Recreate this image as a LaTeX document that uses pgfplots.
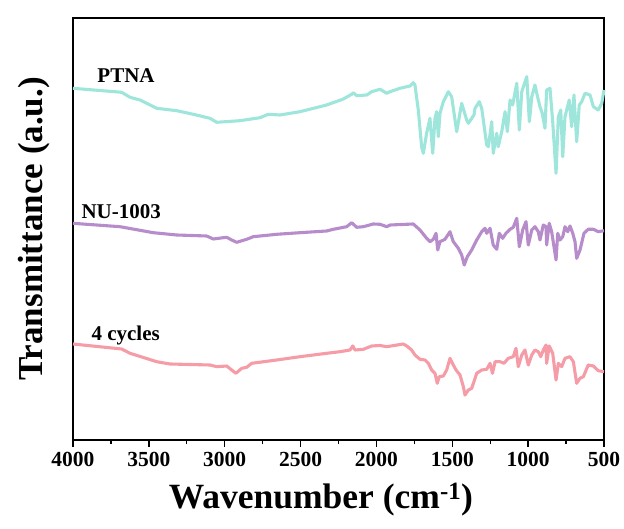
\documentclass[border=0pt]{standalone}
\usepackage{fontspec}
\setmainfont{Liberation Serif}
\usepackage{pgfplots}
\pgfplotsset{compat=1.18}
\definecolor{cPT}{RGB}{158,230,219}
\definecolor{cNU}{RGB}{182,140,202}
\definecolor{cFC}{RGB}{245,156,166}
\begin{document}
\begin{tikzpicture}
\begin{axis}[
  scale only axis, width=531pt, height=422pt,
  xmin=500, xmax=4000, ymin=-440, ymax=-18,
  x dir=reverse,
  xtick={500,1000,...,4000},
  minor x tick num=1,
  ytick=\empty,
  tick align=outside, xtick pos=bottom,
  major tick length=7pt, minor tick length=4pt,
  every tick/.style={black, line width=1.4pt},
  axis line style={line width=1.8pt},
  /pgf/number format/assume math mode=true,
  /pgf/number format/1000 sep={},
  ticklabel style={font=\fontsize{21.5}{21.5}\selectfont\bfseries},
  xticklabel style={yshift=-2pt},
  xlabel={Wavenumber (cm\textsuperscript{-1})},
  ylabel={Transmittance (a.u.)},
  xlabel style={font=\fontsize{35.5}{35.5}\selectfont\bfseries, at={(axis description cs:0.467,0)}, anchor=base, yshift=-69pt},
  ylabel style={font=\fontsize{35}{35}\selectfont\bfseries, at={(axis description cs:-0.0734,0.5)}, anchor=center},
  clip=false,
  every axis plot/.append style={line width=3.1pt, line join=round, no markers},
]
\path (rel axis cs:0,0) ++(-73pt,-89pt) rectangle (rel axis cs:1,1) ++(20pt,18pt);
\addplot[cPT] coordinates {
(4000,-88.3)(3679,-92.3)(3624,-97.3)(3558,-100)(3448,-108.3)(3316,-110.7)(3207,-114.3)(3097,-118.3)(3053,-122.3)(2899,-120.7)(2767,-117.7)(2713,-114.3)(2636,-115)(2504,-111.7)(2328,-105)(2218,-99)(2163,-94.3)(2152,-92.7)(2130,-95.7)(2064,-95)(2031,-91.7)(1976,-89.3)(1932,-93.3)(1910,-91.7)(1845,-88.3)(1779,-86)(1757,-82.7)(1746,-85)(1724,-110)(1702,-146.7)(1691,-153.3)(1669,-133.3)(1647,-118.3)(1629,-153.3)(1614,-118.3)(1603,-111.7)(1592,-136.7)(1581,-113.3)(1559,-101.7)(1526,-91.7)(1504,-96.7)(1471,-131.7)(1438,-103.3)(1405,-120)(1394,-123.3)(1372,-118.3)(1357,-115)(1350,-108.3)(1322,-101.7)(1306,-108.3)(1273,-145)(1262,-146.7)(1240,-121.7)(1230,-153.3)(1207,-133.3)(1197,-146.7)(1174,-131.7)(1152,-111.7)(1137,-131.7)(1119,-100)(1102,-105)(1075,-83.3)(1058,-130)(1042,-91.7)(1009,-76.7)(992,-121.7)(976,-96.7)(955,-85)(943,-93.3)(922,-106.7)(907,-113.3)(889,-128.3)(878,-90)(856,-88.3)(838,-121.7)(816,-173.3)(801,-116.7)(785,-110)(772,-156.7)(757,-116.7)(729,-100)(713,-126.7)(698,-95)(680,-141.7)(663,-105)(647,-101.7)(625,-93.3)(592,-95)(570,-106.7)(538,-110)(515,-103.3)(500,-90)
};
\addplot[cNU] coordinates {
(4000,-223.3)(3690,-226.7)(3471,-232.7)(3316,-235)(3119,-236)(3075,-239)(3009,-237.7)(2987,-237.3)(2954,-240)(2921,-242.3)(2855,-239.3)(2812,-236.7)(2657,-234.3)(2504,-232.7)(2328,-231)(2284,-229.3)(2196,-226.7)(2163,-222.7)(2130,-227.3)(2086,-226.7)(2021,-224)(1976,-224.3)(1932,-226.7)(1910,-225)(1757,-224)(1713,-230)(1669,-238.3)(1647,-241.7)(1625,-239.3)(1607,-233.3)(1596,-250)(1581,-241.7)(1548,-239.3)(1515,-231.7)(1493,-241.7)(1460,-248.3)(1438,-255)(1421,-265)(1401,-256.7)(1372,-250)(1339,-240)(1306,-231.7)(1284,-228.3)(1273,-233.3)(1251,-228.3)(1230,-245)(1207,-249.3)(1190,-233.3)(1168,-238.3)(1146,-233.3)(1119,-229.3)(1098,-227.3)(1075,-218.3)(1058,-246.7)(1036,-230)(1014,-221.7)(999,-245)(976,-230)(955,-226.7)(933,-231.7)(922,-240)(900,-225)(882,-226.7)(878,-245)(861,-223.3)(845,-231.7)(816,-260)(805,-233.3)(790,-240)(772,-236.7)(757,-226.7)(739,-231.7)(724,-226)(706,-233.3)(691,-241.7)(680,-258.3)(658,-250)(632,-233.3)(604,-229.3)(570,-229.3)(538,-231.7)(500,-230.7)
};
\addplot[cFC] coordinates {
(4000,-344)(3679,-349)(3624,-353.3)(3448,-361.7)(3361,-364)(3097,-365)(3053,-366.7)(2987,-366)(2954,-370)(2926,-373.3)(2888,-368.3)(2855,-367.3)(2822,-363.3)(2657,-360)(2504,-356.7)(2328,-353.3)(2240,-351.7)(2174,-350)(2156,-346)(2141,-350)(2086,-349.3)(2031,-346)(1976,-345.5)(1932,-346.7)(1823,-344)(1800,-346)(1768,-350)(1746,-355)(1713,-359.3)(1680,-360)(1658,-363.3)(1636,-370)(1614,-373.3)(1599,-383.3)(1586,-376.7)(1559,-376)(1537,-370)(1515,-358.3)(1493,-365)(1475,-370)(1449,-375)(1427,-386.7)(1416,-395)(1394,-390)(1372,-388.3)(1339,-373.3)(1306,-370)(1273,-369.3)(1251,-363.3)(1235,-373.3)(1218,-361.7)(1185,-361.7)(1159,-363.3)(1131,-358.3)(1098,-356.7)(1080,-348.3)(1065,-366.7)(1042,-355)(1021,-350)(999,-365)(976,-355)(955,-350)(933,-351.7)(917,-356.7)(900,-350)(882,-345)(878,-363.3)(861,-346)(838,-353.3)(816,-380)(801,-363.3)(779,-366.7)(757,-358.3)(724,-356.7)(702,-361.7)(680,-383.3)(658,-378.3)(636,-376.7)(604,-365)(570,-366)(538,-370.7)(500,-371.7)
};
\node[anchor=west, font=\fontsize{21}{21}\selectfont\bfseries] at (axis cs:3862,-76) {PTNA};
\node[anchor=west, font=\fontsize{21}{21}\selectfont\bfseries] at (axis cs:3967,-212) {NU-1003};
\node[anchor=west, font=\fontsize{21}{21}\selectfont\bfseries] at (axis cs:3901,-335) {4 cycles};
\end{axis}
\end{tikzpicture}
\end{document}
